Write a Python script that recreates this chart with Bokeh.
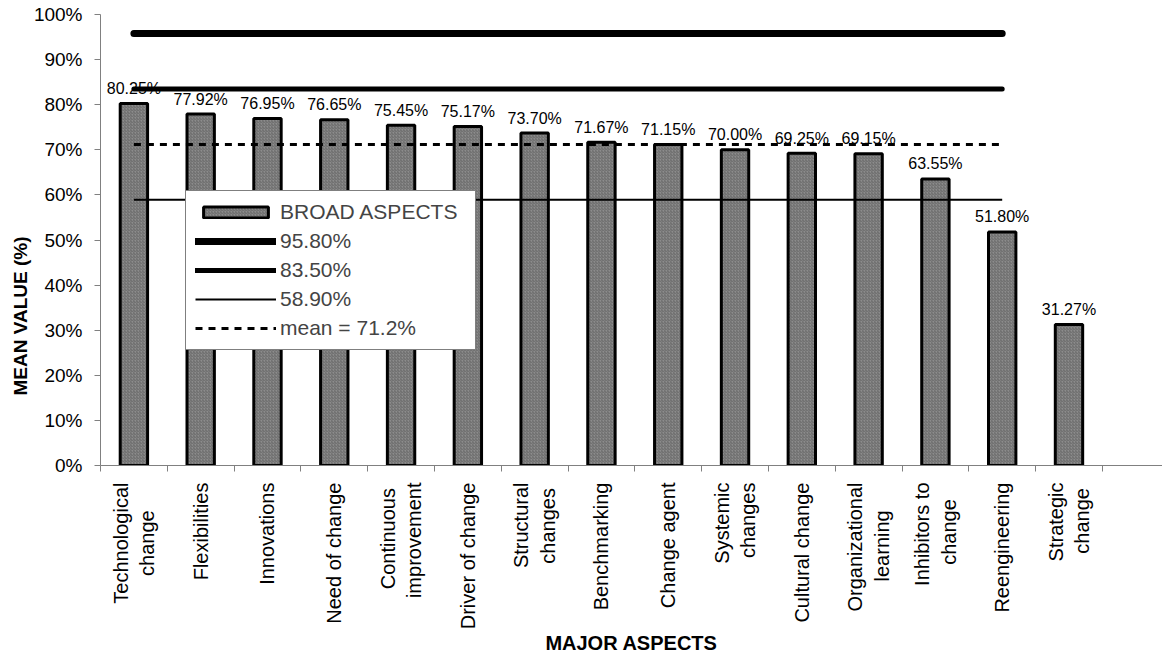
from bokeh.plotting import figure
from bokeh.models import (ColumnDataSource, FixedTicker, PrintfTickFormatter, Range1d,
                          Legend, LegendItem, Title)
from bokeh.core.properties import value
from bokeh.embed import file_html
from bokeh.resources import INLINE
import math

categories = ["Technological\nchange", "Flexibilities", "Innovations", "Need of change",
              "Continuous\nimprovement", "Driver of change", "Structural\nchanges",
              "Benchmarking", "Change agent", "Systemic\nchanges", "Cultural change",
              "Organizational\nlearning", "Inhibitors to\nchange", "Reengineering",
              "Strategic\nchange"]
broad_aspects = [80.25, 77.92, 76.95, 76.65, 75.45, 75.17, 73.70, 71.67, 71.15,
                 70.00, 69.25, 69.15, 63.55, 51.80, 31.27]
ref_high = 95.80
ref_mid = 83.50
ref_low = 58.90
mean_value = 71.2
line_points = 14  # reference lines span the first 14 categories
y_ticks = [0, 10, 20, 30, 40, 50, 60, 70, 80, 90, 100]

FONT = "Liberation Sans"
n = len(categories)
centers = [i + 0.5 for i in range(n)]

# Bokeh aligns multi-line tick labels at their end; pad the shorter line with
# no-break spaces so that the lines look centred, as in the original chart.
NBSP = "\u00a0"
_pad = {0: (0, 5), 4: (1, 0), 6: (0, 1), 11: (0, 5), 12: (0, 3), 14: (0, 1)}


def tick_text(i, label):
    if i not in _pad:
        return label
    lines = label.split("\n")
    return "\n".join(l + NBSP * k for l, k in zip(lines, _pad[i]))


tick_labels = [tick_text(i, c) for i, c in enumerate(categories)]

p = figure(width=1162, height=657, output_backend="svg", toolbar_location=None,
           x_range=Range1d(0, 15.9), y_range=Range1d(0, 100),
           min_border_left=100, min_border_right=0, min_border_top=14,
           min_border_bottom=192)
p.outline_line_color = None
p.xgrid.visible = False
p.ygrid.visible = False
p.background_fill_color = "white"
p.border_fill_color = "white"

src = ColumnDataSource(dict(x=centers, top=broad_aspects,
                            lab=["%.2f%%" % v for v in broad_aspects]))
bars = p.vbar(x="x", top="top", width=0.41, source=src,
              fill_color="#8c8c8c", line_color="black", line_width=3,
              hatch_pattern="/", hatch_color="#6a6a6a", hatch_scale=3, hatch_weight=1)

p.text(x="x", y="top", text="lab", source=src, text_align="center",
       text_baseline="alphabetic", y_offset=-15, text_font=value(FONT),
       text_font_size="16px", text_color="black")

lx = centers[:line_points]
r_high = p.line(lx, [ref_high] * line_points, line_color="black", line_width=7, line_cap="round")
r_mid = p.line(lx, [ref_mid] * line_points, line_color="black", line_width=5, line_cap="round")
r_low = p.line(lx, [ref_low] * line_points, line_color="black", line_width=2)
r_mean = p.line(lx, [mean_value] * line_points, line_color="black", line_width=3,
                line_dash="7 6")

# axes
p.xaxis.ticker = FixedTicker(ticks=centers, minor_ticks=list(range(0, n + 1)))
p.xaxis.major_label_overrides = {c: lab for c, lab in zip(centers, tick_labels)}
p.xaxis.major_label_orientation = math.pi / 2
p.xaxis.major_tick_out = 0
p.xaxis.major_tick_in = 0
p.xaxis.minor_tick_out = 6
p.xaxis.minor_tick_in = 0
p.xaxis.minor_tick_line_color = "#808080"
p.xaxis.axis_line_color = "#808080"
p.xaxis.major_label_text_font = FONT
p.xaxis.major_label_text_font_size = "20px"
p.xaxis.major_label_text_color = "black"
p.xaxis.major_label_standoff = 11
p.xaxis.axis_label = "MAJOR ASPECTS"
p.xaxis.axis_label_text_font = FONT
p.xaxis.axis_label_text_font_style = "bold"
p.xaxis.axis_label_text_font_size = "20px"
p.xaxis.axis_label_text_color = "black"
p.xaxis.axis_label_standoff = 0

p.yaxis.ticker = FixedTicker(ticks=y_ticks)
p.yaxis.formatter = PrintfTickFormatter(format="%d%%")
p.yaxis.major_tick_out = 6
p.yaxis.major_tick_in = 0
p.yaxis.minor_tick_out = 0
p.yaxis.minor_tick_in = 0
p.yaxis.major_tick_line_color = "#808080"
p.yaxis.axis_line_color = "#808080"
p.yaxis.major_label_text_font = FONT
p.yaxis.major_label_text_font_size = "19px"
p.yaxis.major_label_text_color = "black"
p.yaxis.major_label_standoff = 12

ytitle = Title(text="MEAN VALUE (%)", align="left", offset=70, text_font=FONT,
               text_font_style="bold", text_font_size="19px", text_color="black",
               standoff=0)
p.add_layout(ytitle, "left")

legend = Legend(items=[
    LegendItem(label="BROAD ASPECTS", renderers=[bars]),
    LegendItem(label="95.80%", renderers=[r_high]),
    LegendItem(label="83.50%", renderers=[r_mid]),
    LegendItem(label="58.90%", renderers=[r_low]),
    LegendItem(label="mean = 71.2%", renderers=[r_mean]),
], location=(85, 115))
legend.glyph_width = 81
legend.glyph_height = 14
legend.label_height = 22
legend.label_width = 186
legend.spacing = 5
legend.padding = 9
legend.margin = 0
legend.label_standoff = 4
legend.label_text_font = FONT
legend.label_text_font_size = "21px"
legend.border_line_color = "black"
legend.border_line_width = 1
legend.background_fill_color = "white"
legend.background_fill_alpha = 1
p.add_layout(legend, "center")

open("out.html", "w").write(file_html(p, INLINE))
